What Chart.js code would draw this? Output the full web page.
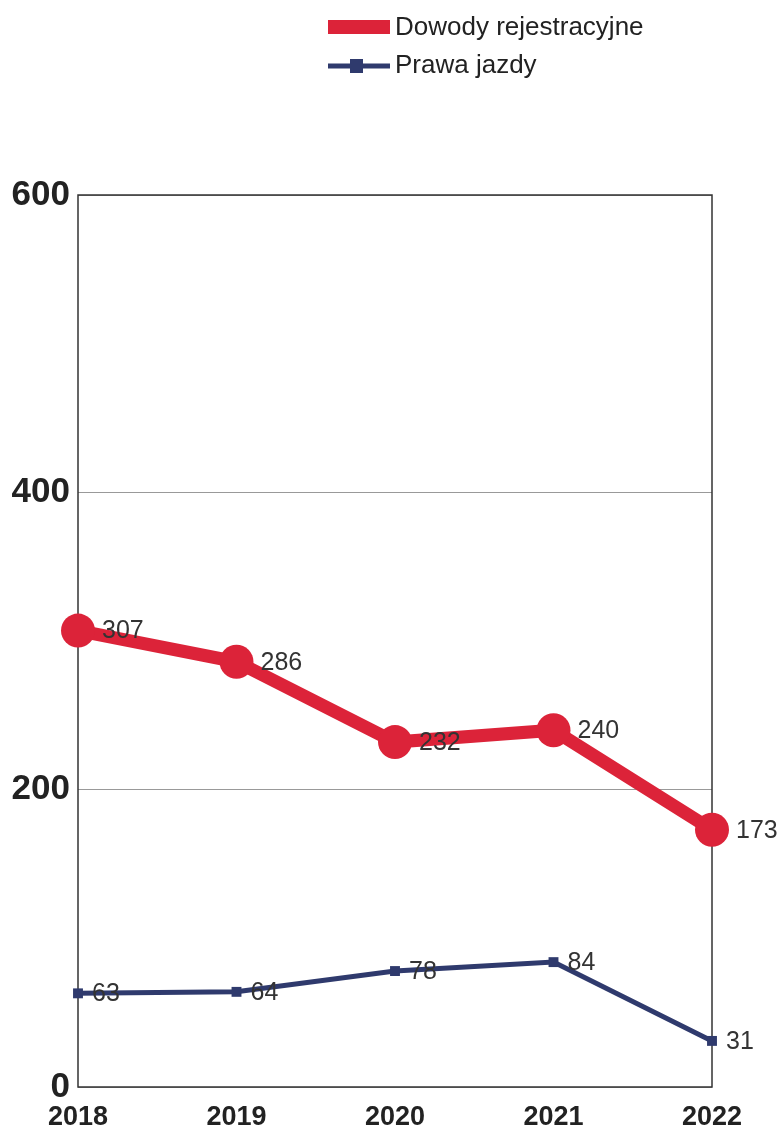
<!DOCTYPE html>
<html>
<head>
<meta charset="utf-8">
<script src="https://cdn.jsdelivr.net/npm/chart.js@4/dist/chart.umd.min.js"></script>
<style>
  html, body { margin: 0; padding: 0; background: #fff; }
  #wrap { position: relative; width: 782px; height: 1137px; }
</style>
</head>
<body>
<div id="wrap"><canvas id="wykres"></canvas></div>
<script>
// lata i wartosci
const years = ["2018", "2019", "2020", "2021", "2022"];
const dowody = [307, 286, 232, 240, 173];
const prawaJazdy = [63, 64, 78, 84, 31];
const yTicks = [0, 200, 400, 600];

const RED = "#dc2339";
const BLUE = "#2f3a6d";

// etykiety z wartosciami obok punktow
const valueLabels = {
    id: "valueLabels",
    afterDatasetsDraw(chart) {
        const ctx = chart.ctx;
        ctx.save();
        ctx.textBaseline = "middle";
        ctx.fillStyle = "#333";
        chart.data.datasets.forEach(function(ds, i) {
            const meta = chart.getDatasetMeta(i);
            const off = i == 0 ? 24 : 14;
            ctx.font = "25px 'Liberation Sans', Arial, sans-serif";
            meta.data.forEach(function(pt, j) {
                ctx.fillText(String(ds.data[j]), pt.x + off, pt.y + 1);
            });
        });
        ctx.restore();
    }
};

// ramka obszaru wykresu + legenda na gorze
const frameAndLegend = {
    id: "frameAndLegend",
    beforeDatasetsDraw(chart) {
        const a = chart.chartArea;
        const ctx = chart.ctx;
        ctx.save();
        ctx.strokeStyle = "#333";
        ctx.lineWidth = 1.5;
        ctx.strokeRect(a.left, a.top, a.right - a.left, a.bottom - a.top);
        ctx.restore();
    },
    afterDraw(chart) {
        const ctx = chart.ctx;
        ctx.save();
        // Dowody rejestracyjne
        ctx.strokeStyle = RED;
        ctx.lineWidth = 14;
        ctx.beginPath();
        ctx.moveTo(328, 27);
        ctx.lineTo(390, 27);
        ctx.stroke();
        // Prawa jazdy
        ctx.strokeStyle = BLUE;
        ctx.lineWidth = 5;
        ctx.beginPath();
        ctx.moveTo(328, 66);
        ctx.lineTo(390, 66);
        ctx.stroke();
        ctx.fillStyle = BLUE;
        ctx.fillRect(350, 59, 13, 14);
        ctx.fillStyle = "#222";
        ctx.font = "26px 'Liberation Sans', Arial, sans-serif";
        ctx.textBaseline = "middle";
        ctx.fillText("Dowody rejestracyjne", 395, 28);
        ctx.fillText("Prawa jazdy", 395, 66);
        ctx.restore();
    }
};

const graph = document.getElementById("wykres");

const config = {
    type: "line",
    data: {
        labels: years,
        datasets: [
            {
                label: "Dowody rejestracyjne",
                data: dowody,
                borderColor: RED,
                backgroundColor: RED,
                borderWidth: 13,
                pointRadius: 17,
                pointHoverRadius: 17,
                pointBorderWidth: 0,
                tension: 0,
                clip: false
            },
            {
                label: "Prawa jazdy",
                data: prawaJazdy,
                borderColor: BLUE,
                backgroundColor: BLUE,
                borderWidth: 5,
                pointStyle: "rect",
                pointRadius: 7,
                pointHoverRadius: 7,
                pointBorderWidth: 0,
                tension: 0,
                clip: false
            }
        ]
    },
    options: {
        responsive: false,
        animation: false,
        devicePixelRatio: 1,
        layout: { padding: { top: 195, right: 70, left: 0, bottom: 0 } },
        plugins: {
            legend: { display: false },
            tooltip: { enabled: false }
        },
        scales: {
            x: {
                offset: false,
                grid: { display: false, drawTicks: false },
                border: { display: false },
                ticks: {
                    color: "#222",
                    font: { family: "'Liberation Sans', Arial, sans-serif", size: 27, weight: "bold" },
                    padding: 14,
                    maxRotation: 0
                },
                afterFit(scale) { scale.height = 50; }
            },
            y: {
                min: 0,
                max: 600,
                afterBuildTicks(scale) {
                    scale.ticks = yTicks.map((v) => ({ value: v }));
                },
                grid: { color: "#999", lineWidth: 1, drawTicks: false },
                border: { display: false },
                ticks: {
                    color: "#222",
                    font: { family: "'Liberation Sans', Arial, sans-serif", size: 35, weight: "bold" },
                    padding: 8
                },
                afterFit(scale) { scale.width = 78; }
            }
        }
    },
    plugins: [frameAndLegend, valueLabels]
};

graph.width = 782;
graph.height = 1137;
let myChart = new Chart(graph, config);
</script>
</body>
</html>
